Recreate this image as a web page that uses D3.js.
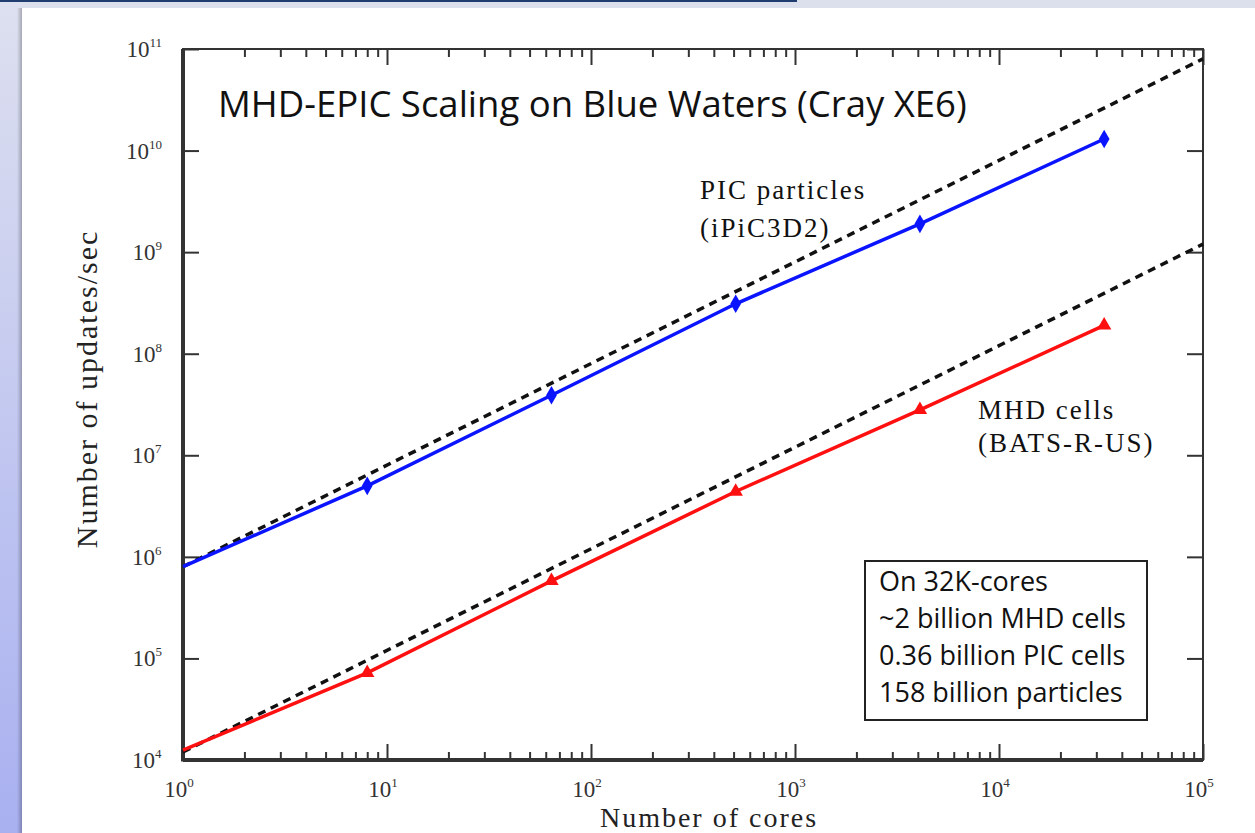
<!DOCTYPE html>
<html>
<head>
<meta charset="utf-8">
<script src="https://cdn.jsdelivr.net/npm/d3@7"></script>
<style>
  body { margin: 0; background: #fff; }
  svg { display: block; }
</style>
</head>
<body>
<svg id="chart" width="1255" height="833"></svg>
<script>
// cores used in the runs
const cores = [1, 8, 64, 512, 4096, 32768];
// PIC particle updates per second (iPiC3D2)
const picUpdates = [8.0e5, 5.0e6, 3.9e7, 3.1e8, 1.9e9, 1.3e10];
// MHD cell updates per second (BATS-R-US)
const mhdUpdates = [1.25e4, 7.2e4, 5.8e5, 4.4e6, 2.8e7, 1.9e8];
// ideal (linear) scaling lines
const idealCores = [1, 1e5];
const picIdeal = [8.0e5, 8.0e10];
const mhdIdeal = [1.2e4, 1.2e9];
const xExponents = [0, 1, 2, 3, 4, 5];
const yExponents = [4, 5, 6, 7, 8, 9, 10, 11];
const boxLines = ["On 32K-cores", "~2 billion MHD cells", "0.36 billion PIC cells", "158 billion particles"];

const svg = d3.select("#chart");
const margin = { top: 49, right: 52, bottom: 73, left: 183 };
const W = 1255, H = 833;

// slide background
const defs = svg.append("defs");
const grad = defs.append("linearGradient").attr("id", "side").attr("x1", 0).attr("y1", 0).attr("x2", 0).attr("y2", 1);
grad.append("stop").attr("offset", "0%").attr("stop-color", "#dde0ef");
grad.append("stop").attr("offset", "100%").attr("stop-color", "#a8b0f0");
const shade = defs.append("linearGradient").attr("id", "shade").attr("x1", 0).attr("y1", 0).attr("x2", 1).attr("y2", 0);
shade.append("stop").attr("offset", "0%").attr("stop-color", "#000").attr("stop-opacity", 0);
shade.append("stop").attr("offset", "100%").attr("stop-color", "#000").attr("stop-opacity", 0.25);

svg.append("rect").attr("width", W).attr("height", H).attr("fill", "#fff");
svg.append("rect").attr("width", W).attr("height", 8).attr("fill", "#dcdfec");
svg.append("rect").attr("width", 22).attr("height", H).attr("fill", "url(#side)");
svg.append("rect").attr("x", 17).attr("y", 8).attr("width", 5).attr("height", H).attr("fill", "url(#shade)");
svg.append("rect").attr("width", 797).attr("height", 2).attr("fill", "#1f3d6e");

const x = d3.scaleLog().domain([1, 1e5]).range([margin.left, W - margin.right]);
const y = d3.scaleLog().domain([1e4, 1e11]).range([H - margin.bottom, margin.top]);

const x0 = x.range()[0], x1 = x.range()[1], y0 = y.range()[0], y1 = y.range()[1];

// minor tick values for x
const xMinor = [];
for (let k = 0; k < 5; k++) for (let m = 2; m <= 9; m++) xMinor.push(m * Math.pow(10, k));
const xMajor = xExponents.map(e => Math.pow(10, e));
const yMajor = yExponents.map(e => Math.pow(10, e));

const axisStyle = g => {
  g.select(".domain").remove();
  g.selectAll("line").attr("stroke", "#333").attr("stroke-width", 2);
  g.selectAll("text").remove();
};

// bottom and top axes (ticks inward)
svg.append("g").attr("transform", `translate(0,${y0})`)
  .call(d3.axisBottom(x).tickValues(xMinor).tickSize(-8)).call(axisStyle);
svg.append("g").attr("transform", `translate(0,${y0})`)
  .call(d3.axisBottom(x).tickValues(xMajor).tickSize(-16)).call(axisStyle);
svg.append("g").attr("transform", `translate(0,${y1})`)
  .call(d3.axisTop(x).tickValues(xMinor).tickSize(-8)).call(axisStyle);
svg.append("g").attr("transform", `translate(0,${y1})`)
  .call(d3.axisTop(x).tickValues(xMajor).tickSize(-16)).call(axisStyle);
// left and right
svg.append("g").attr("transform", `translate(${x0},0)`)
  .call(d3.axisLeft(y).tickValues(yMajor).tickSize(-16)).call(axisStyle);
svg.append("g").attr("transform", `translate(${x1},0)`)
  .call(d3.axisRight(y).tickValues(yMajor).tickSize(-16)).call(axisStyle);

// frame
svg.append("rect").attr("x", x0).attr("y", y1).attr("width", x1 - x0).attr("height", y0 - y1)
  .attr("fill", "none").attr("stroke", "#333").attr("stroke-width", 2);
svg.append("line").attr("x1", x0).attr("x2", x0).attr("y1", y1).attr("y2", y0 + 1.5)
  .attr("stroke", "#333").attr("stroke-width", 4);
svg.append("line").attr("x1", x0).attr("x2", x1).attr("y1", y0).attr("y2", y0)
  .attr("stroke", "#333").attr("stroke-width", 4);

// tick labels with superscripts
const serif = "'Liberation Serif', 'DejaVu Serif', serif";
const xl = svg.append("g").attr("font-family", serif).attr("font-size", 23).attr("fill", "#333");
xExponents.forEach(e => {
  const t = xl.append("text").attr("x", x(Math.pow(10, e)) - 4).attr("y", y0 + 37).attr("text-anchor", "middle");
  t.append("tspan").text("10");
  t.append("tspan").attr("dy", -10).attr("font-size", 13).text(e);
});
const yl = svg.append("g").attr("font-family", serif).attr("font-size", 23).attr("fill", "#333");
yExponents.forEach(e => {
  const t = yl.append("text").attr("x", x0 - 22).attr("y", y(Math.pow(10, e)) + 8);
  t.append("tspan").text("10");
  t.append("tspan").attr("dy", -10).attr("font-size", 13).text(e);
});
// right-align the y labels against the axis
yl.selectAll("text").each(function() {
  const bb = this.getBBox();
  d3.select(this).attr("x", x0 - 21 - bb.width);
});

// axis titles
svg.append("text").attr("x", 709).attr("y", 827).attr("text-anchor", "middle")
  .attr("font-family", serif).attr("font-size", 28).attr("letter-spacing", 2).attr("fill", "#222")
  .text("Number of cores");
svg.append("text").attr("transform", `translate(97,389) rotate(-90)`)
  .attr("text-anchor", "middle").attr("font-family", serif).attr("font-size", 30)
  .attr("letter-spacing", 2).attr("fill", "#222")
  .text("Number of updates/sec");

const line = d3.line().x(d => x(d[0])).y(d => y(d[1]));

// ideal scaling dashed lines
[picIdeal, mhdIdeal].forEach(vals => {
  svg.append("path").datum(idealCores.map((c, i) => [c, vals[i]]))
    .attr("d", line).attr("fill", "none").attr("stroke", "#111")
    .attr("stroke-width", 3.5).attr("stroke-dasharray", "8,6");
});

// measured series
const series = [
  { vals: picUpdates, color: "#0a14ff", symbol: d3.symbolDiamond, size: 100 },
  { vals: mhdUpdates, color: "#ff1010", symbol: d3.symbolTriangle, size: 90 }
];
series.forEach(s => {
  const pts = cores.map((c, i) => [c, s.vals[i]]);
  svg.append("path").datum(pts).attr("d", line).attr("fill", "none")
    .attr("stroke", s.color).attr("stroke-width", 3.5);
  svg.selectAll(null).data(pts.slice(1)).enter().append("path")
    .attr("d", d3.symbol().type(s.symbol).size(s.size))
    .attr("transform", d => `translate(${x(d[0])},${y(d[1])})`)
    .attr("fill", s.color);
});

// title
const sans = "'Open Sans', 'Noto Sans', sans-serif";
svg.append("text").attr("x", 218).attr("y", 117).attr("font-family", sans)
  .attr("font-size", 36.5).attr("fill", "#111").text("MHD-EPIC Scaling on Blue Waters (Cray XE6)");

// series labels
const lab = svg.append("g").attr("font-family", serif).attr("font-size", 27)
  .attr("letter-spacing", 2).attr("fill", "#111");
lab.append("text").attr("x", 700).attr("y", 199).text("PIC particles");
lab.append("text").attr("x", 700).attr("y", 237).text("(iPiC3D2)");
lab.append("text").attr("x", 978).attr("y", 419).text("MHD cells");
lab.append("text").attr("x", 978).attr("y", 452).text("(BATS-R-US)");

// info box
svg.append("rect").attr("x", 865).attr("y", 561).attr("width", 282).attr("height", 159)
  .attr("fill", "#fff").attr("stroke", "#222").attr("stroke-width", 2);
svg.append("g").attr("font-family", sans).attr("font-size", 27).attr("fill", "#111")
  .selectAll("text").data(boxLines).enter().append("text")
  .attr("x", 879).attr("y", (d, i) => 591 + i * 37).text(d => d);
</script>
</body>
</html>
